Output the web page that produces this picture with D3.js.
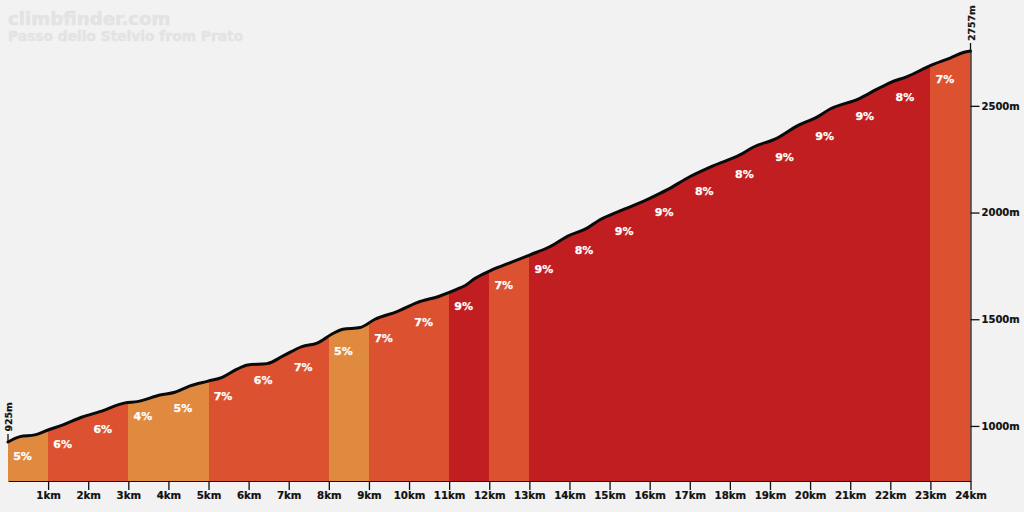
<!DOCTYPE html>
<html><head><meta charset="utf-8">
<script src="https://d3js.org/d3.v7.min.js"></script>
<style>html,body{margin:0;padding:0;background:#f2f2f2}svg{display:block}
text{font-family:"DejaVu Sans",sans-serif;font-weight:700}</style></head><body>
<div id="chart"></div>
<script>
const profileKm=[0,0.30,0.67,1.0,1.37,1.85,2.29,2.92,3.22,3.79,4.16,4.54,4.99,5.34,5.71,5.98,6.46,6.86,7.33,7.71,8.08,8.35,8.78,9.15,9.70,10.2,10.77,11.2,11.4,11.65,12.02,12.59,13.02,13.52,13.97,14.44,14.76,15.26,15.84,16.01,16.43,17.01,17.58,18.25,18.58,19.18,19.68,20.17,20.5,21.2,21.67,22.0,22.42,23.04,23.49,23.82,24];
const profileElev=[925,950,958,981,1005,1042,1067,1108,1114,1145,1158,1188,1210,1228,1266,1286,1292,1328,1372,1388,1431,1453,1461,1500,1536,1578,1609,1641,1658,1692,1727,1770,1802,1841,1891,1927,1966,2008,2052,2067,2106,2169,2219,2270,2306,2349,2406,2447,2485,2532,2578,2609,2637,2692,2724,2750,2757];
const grades=[5,6,6,4,5,7,6,7,5,7,7,9,7,9,8,9,9,8,8,9,9,9,8,7];
const gradeLabelElev=[859,916,986,1047,1084,1141,1216,1277,1352,1413,1488,1563,1661,1736,1825,1914,2003,2102,2181,2261,2360,2453,2542,2627];
const kmTicks=d3.range(1,25);
const elevTicks=[1000,1500,2000,2500];
const title="climbfinder.com";
const subtitle="Passo dello Stelvio from Prato";

const W=1024,H=512;
const x=d3.scaleLinear().domain([0,24]).range([8,970.5]);
const y=d3.scaleLinear().domain([742,2757]).range([481,51]);
const color=g=>g<=5?"#e08a40":g<=7?"#dc5230":"#c11e21";
const pts=profileKm.map((k,i)=>[k,profileElev[i]]);

const svg=d3.select("#chart").append("svg").attr("width",W).attr("height",H);
svg.append("rect").attr("width",W).attr("height",H).attr("fill","#f2f2f2");
svg.append("text").attr("x",8).attr("y",25).attr("font-size",18.2).attr("fill","#e3e3e3").attr("stroke","#e3e3e3").attr("stroke-width",0.5).text(title);
svg.append("text").attr("x",8).attr("y",41).attr("font-size",13.8).attr("fill","#e3e3e3").attr("stroke","#e3e3e3").attr("stroke-width",0.4).text(subtitle);

const curve=d3.curveMonotoneX;
const area=d3.area().x(d=>x(d[0])).y0(y(742)).y1(d=>y(d[1])).curve(curve);
const line=d3.line().x(d=>x(d[0])).y(d=>y(d[1])).curve(curve);
svg.append("clipPath").attr("id","prof").append("path").attr("d",area(pts));
svg.append("g").attr("clip-path","url(#prof)").attr("shape-rendering","crispEdges").selectAll("rect").data(grades).join("rect")
 .attr("x",(d,i)=>Math.round(x(i))).attr("width",(d,i)=>Math.round(x(i+1))-Math.round(x(i)))
 .attr("y",y(2757)-2).attr("height",y(742)-y(2757)+2).attr("fill",d=>color(d));

const axB=svg.append("g").attr("transform",`translate(0,${y(742)})`)
 .call(d3.axisBottom(x).tickValues(kmTicks).tickFormat(d=>d+"km").tickSize(9).tickSizeOuter(0));
axB.select(".domain").attr("stroke","#111").attr("stroke-width",1.2);
axB.selectAll(".tick line").attr("stroke","#111").attr("stroke-width",1.3);
axB.selectAll("text").attr("font-size",10.2).attr("fill","#111").attr("stroke","#111").attr("stroke-width",0.2).attr("y",14).attr("dy","0.35em");

const axR=svg.append("g").attr("transform",`translate(${x(24)},0)`)
 .call(d3.axisRight(y).tickValues(elevTicks).tickFormat(d=>d+"m").tickSize(9).tickSizeOuter(0));
axR.select(".domain").attr("stroke","#111").attr("stroke-width",1.2);
axR.selectAll(".tick line").attr("stroke","#111").attr("stroke-width",1.3);
axR.selectAll("text").attr("font-size",10).attr("fill","#111").attr("stroke","#111").attr("stroke-width",0.2).attr("x",11);

svg.append("path").attr("d",line(pts)).attr("fill","none").attr("stroke","#0a0a0a").attr("stroke-width",3).attr("stroke-linecap","round");

svg.selectAll("text.grade").data(grades).join("text").attr("class","grade")
 .attr("x",(d,i)=>x(i+0.35)+0.5).attr("y",(d,i)=>y(gradeLabelElev[i])).attr("dy","0.36em")
 .attr("text-anchor","middle").attr("font-size",11).attr("fill","#fff").attr("stroke","#fff").attr("stroke-width",0.25).text(d=>d+"%");

// end markers
const ends=[[0,925],[24,2757]];
svg.selectAll("line.end").data(ends).join("line").attr("class","end")
 .attr("x1",d=>x(d[0])).attr("x2",d=>x(d[0])).attr("y1",d=>y(d[1])).attr("y2",d=>y(d[1])-8)
 .attr("stroke","#111").attr("stroke-width",1.3);
svg.selectAll("text.endl").data(ends).join("text").attr("class","endl")
 .attr("transform",d=>`translate(${x(d[0])+4.2},${y(d[1])-(d[0]?10:10.5)}) rotate(-90)`)
 .attr("font-size",9.4).attr("fill","#111").attr("stroke","#111").attr("stroke-width",0.2).text(d=>d[1]+"m");
</script></body></html>
